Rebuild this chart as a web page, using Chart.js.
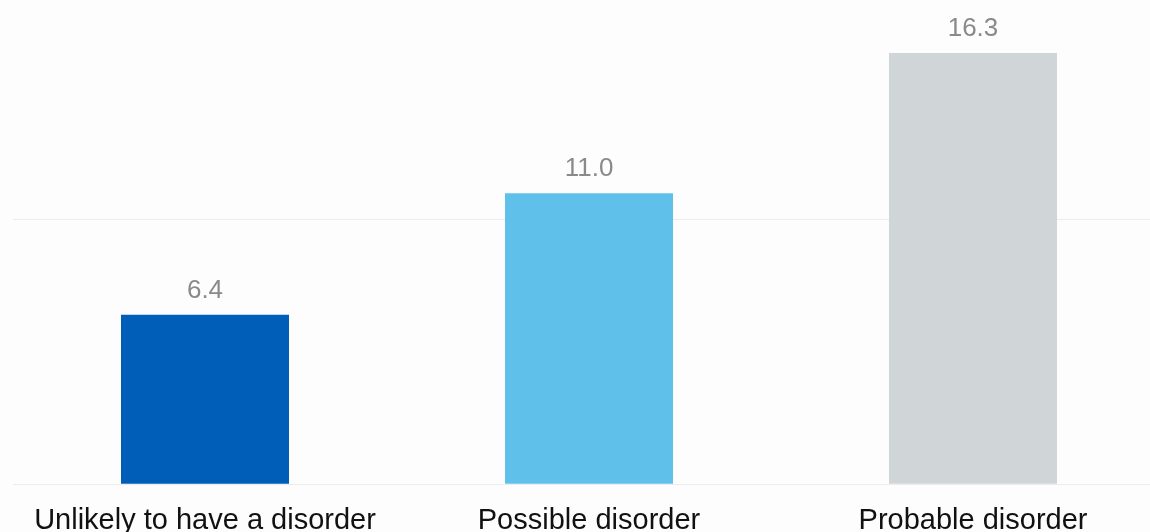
<!DOCTYPE html>
<html>
<head>
<meta charset="utf-8">
<script src="https://cdn.jsdelivr.net/npm/chart.js@4"></script>
<style>
  html, body { margin: 0; padding: 0; overflow: hidden; background: #fdfdfd; }
  #wrap { width: 1165px; height: 549px; position: relative; }
</style>
</head>
<body>
<div id="wrap"><canvas id="chart"></canvas></div>
<script>
// categorias y valores
const categories = ['Unlikely to have a disorder', 'Possible disorder', 'Probable disorder'];
const values = [6.4, 11.0, 16.3];
const barColors = ['#005EB8', '#5FC1EA', '#D0D6D7'];
const gridTicks = [0, 10];

// etiquetas de valor encima de cada barra
const valueLabels = {
    id: 'valueLabels',
    afterDatasetsDraw(chart) {
        const ctx = chart.ctx;
        const meta = chart.getDatasetMeta(0);
        ctx.save();
        ctx.font = '26px "Liberation Sans", Arial, sans-serif';
        ctx.fillStyle = '#8a8a8a';
        ctx.textAlign = 'center';
        ctx.textBaseline = 'alphabetic';
        meta.data.forEach(function(bar, i) {
            ctx.fillText(values[i].toFixed(1), bar.x, bar.y - 17);
        });
        ctx.restore();
    }
};

new Chart(document.getElementById('chart'), {
    type: 'bar',
    data: {
        labels: categories,
        datasets: [{
            data: values,
            backgroundColor: barColors,
            categoryPercentage: 1,
            barPercentage: 0.4375
        }]
    },
    options: {
        responsive: true,
        maintainAspectRatio: false,
        animation: false,
        layout: { padding: { left: 13, right: 0, top: 0, bottom: 0 } },
        plugins: {
            legend: { display: false },
            tooltip: { enabled: false }
        },
        scales: {
            x: {
                grid: { display: false },
                border: { display: false },
                ticks: {
                    color: '#111111',
                    padding: 11,
                    maxRotation: 0,
                    font: { family: '"Liberation Sans", Arial, sans-serif', size: 29 }
                }
            },
            y: {
                min: 0,
                max: 18.3,
                afterBuildTicks: function(axis) {
                    axis.ticks = gridTicks.map(function(v) { return { value: v }; });
                },
                grid: { color: '#ececec', lineWidth: 1, drawTicks: false },
                border: { display: false },
                ticks: { display: false }
            }
        }
    },
    plugins: [valueLabels]
});
</script>
</body>
</html>
